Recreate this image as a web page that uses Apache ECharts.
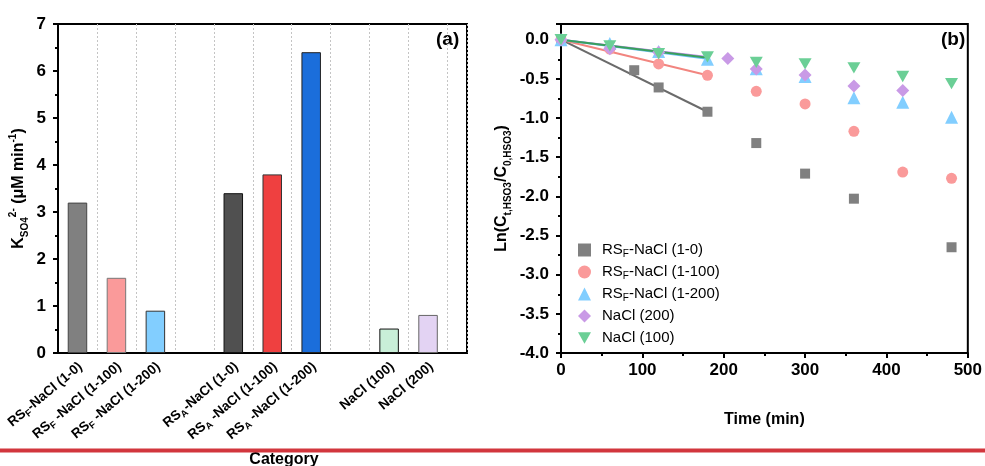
<!DOCTYPE html>
<html>
<head>
<meta charset="utf-8">
<script src="https://cdn.jsdelivr.net/npm/echarts@6/dist/echarts.min.js"></script>
<style>html,body{margin:0;padding:0;background:#fff;}#c{width:985px;height:466px;}</style>
</head>
<body>
<div id="c"></div>
<script>
// ---------- Panel (a) data ----------
const categories = ['RS{s|F}-NaCl (1-0)', 'RS{s|F} -NaCl (1-100)', 'RS{s|F} -NaCl (1-200)', '',
  'RS{s|A}-NaCl (1-0)', 'RS{s|A} -NaCl (1-100)', 'RS{s|A} -NaCl (1-200)', '',
  'NaCl (100)', 'NaCl (200)'];
const kValues = [3.2, 1.6, 0.9, null, 3.4, 3.8, 6.4, null, 0.52, 0.81];
const barColors = ['#808080', '#FA9A9A', '#82CEFF', null, '#505050', '#EF4040', '#1B6EDB', null, '#C9EFD8', '#E3D3F3'];
const barBorders = ['#444', '#777', '#333', null, '#111', '#333', '#222', null, '#111', '#666'];

// ---------- Panel (b) data ----------
const seriesNames = ['RS{s|F}-NaCl (1-0)', 'RS{s|F}-NaCl (1-100)', 'RS{s|F}-NaCl (1-200)', 'NaCl (200)', 'NaCl (100)'];
const timeRSF0 = [0, 90, 120, 180, 240, 300, 360, 480];
const lnRSF0 = [0, -0.39, -0.61, -0.92, -1.32, -1.71, -2.03, -2.65];
const timeRSF100 = [0, 60, 120, 180, 240, 300, 360, 420, 480];
const lnRSF100 = [0, -0.12, -0.31, -0.455, -0.66, -0.82, -1.17, -1.69, -1.77];
const timeRSF200 = [0, 60, 120, 180, 240, 300, 360, 420, 480];
const lnRSF200 = [0, -0.05, -0.15, -0.25, -0.37, -0.47, -0.74, -0.80, -0.99];
const timeNaCl200 = [0, 60, 120, 205, 240, 300, 360, 420];
const lnNaCl200 = [0, -0.115, -0.16, -0.24, -0.375, -0.45, -0.59, -0.65];
const timeNaCl100 = [0, 60, 120, 180, 240, 300, 360, 420, 480];
const lnNaCl100 = [0, -0.08, -0.18, -0.22, -0.29, -0.31, -0.36, -0.47, -0.56];
// linear fits (0–180 min), end values
const fitTime = [0, 180];
const fitStart = [0, 0, 0, 0, 0];
const fitEnd = [-0.92, -0.455, -0.245, -0.22, -0.23];

const FF = '"Liberation Sans", Arial, sans-serif';
const markerColors = ['#808080', '#FA9A9A', '#82CEFF', '#C99AE6', '#6BCF96'];
const lineColors = ['#6B6B6B', '#F2857F', '#6CC0F7', '#B98BE2', '#3A9F5C'];
const symbols = ['rect', 'circle', 'triangle', 'diamond', 'path://M0,0L2,0L1,1.732Z'];
const symbolSizes = [10, 11, 13, 13, [13, 11.3]];

const times = [timeRSF0, timeRSF100, timeRSF200, timeNaCl200, timeNaCl100];
const lns = [lnRSF0, lnRSF100, lnRSF200, lnNaCl200, lnNaCl100];

const chart = echarts.init(document.getElementById('c'), null, {renderer: 'canvas'});

const barData = [];
kValues.forEach((v, i) => {
  if (v === null) return;
  barData.push({value: [i + 1, v], itemStyle: {color: barColors[i], borderColor: barBorders[i], borderWidth: 1}});
});

const series = [{
  type: 'bar', xAxisIndex: 0, yAxisIndex: 0, barWidth: 19.5, data: barData, silent: true
}];
// fit lines (drawn under markers)
const fitOrder = [3, 0, 1, 2, 4];
fitOrder.forEach(k => {
  series.push({
    type: 'line', xAxisIndex: 1, yAxisIndex: 1, showSymbol: false, symbol: 'none', silent: true,
    lineStyle: {color: lineColors[k], width: 2},
    data: [[fitTime[0], fitStart[k]], [fitTime[1], fitEnd[k]]], z: 2
  });
});
seriesNames.forEach((name, k) => {
  series.push({
    name: name, type: 'scatter', xAxisIndex: 1, yAxisIndex: 1,
    symbol: symbols[k], symbolSize: symbolSizes[k],
    itemStyle: {color: markerColors[k], opacity: 1},
    data: times[k].map((t, i) => [t, lns[k][i]]), z: 3
  });
});

const subRich = (fs) => ({
  s: {fontSize: fs, lineHeight: fs, verticalAlign: 'bottom', fontFamily: FF, fontWeight: 'bold'},
  p: {fontSize: fs, lineHeight: fs, verticalAlign: 'top', fontFamily: FF, fontWeight: 'bold'}
});

const option = {
  animation: false,
  backgroundColor: '#fff',
  textStyle: {fontFamily: FF},
  grid: [
    {left: 58, top: 24, width: 409, height: 329, show: true, borderColor: '#000', borderWidth: 2, containLabel: false},
    {left: 561, top: 24, width: 409, height: 329, show: true, borderColor: '#000', borderWidth: 2, containLabel: false},
    {left: 61, top: 24, width: 390, height: 329, show: false, containLabel: false}
  ],
  xAxis: [
    {
      gridIndex: 0, type: 'value', min: 0.5, max: 11, interval: 1,
      axisLine: {show: true, lineStyle: {color: '#000', width: 2}},
      axisTick: {show: false}, axisLabel: {show: false},
      splitLine: {show: true, lineStyle: {color: '#C4C4C4', width: 1, type: [2, 2]}}
    },
    {
      gridIndex: 1, type: 'value', min: 0, max: 500, interval: 100,
      axisLine: {show: true, onZero: false, lineStyle: {color: '#000', width: 2}},
      axisTick: {show: true, length: 5, lineStyle: {color: '#000', width: 2}},
      minorTick: {show: true, splitNumber: 2, length: 3, lineStyle: {color: '#000', width: 2}},
      splitLine: {show: false},
      axisLabel: {color: '#000', fontSize: 17, fontWeight: 'bold', fontFamily: FF, margin: 9},
      name: 'Time (min)', nameLocation: 'middle', nameGap: 59,
      nameTextStyle: {color: '#000', fontSize: 16, fontWeight: 'bold', fontFamily: FF}
    },
    {
      gridIndex: 2, type: 'category', data: categories, boundaryGap: true,
      axisLine: {show: false}, axisTick: {show: false}, splitLine: {show: false},
      axisLabel: {
        interval: 0, rotate: 40, margin: 12, color: '#000', fontSize: 13.5, fontWeight: 'bold', fontFamily: FF,
        lineHeight: 18, rich: subRich(9.5)
      }
    }
  ],
  yAxis: [
    {
      gridIndex: 0, type: 'value', min: 0, max: 7, interval: 1,
      axisLine: {show: true, lineStyle: {color: '#000', width: 2}},
      axisTick: {show: true, length: 5, lineStyle: {color: '#000', width: 2}},
      minorTick: {show: true, splitNumber: 2, length: 3, lineStyle: {color: '#000', width: 2}},
      splitLine: {show: false},
      axisLabel: {color: '#000', fontSize: 17, fontWeight: 'bold', fontFamily: FF, margin: 12},
      name: 'K{s|SO4}{p|2-} (μM min{p|-1})', nameLocation: 'middle', nameRotate: 90, nameGap: 28,
      nameTextStyle: {color: '#000', fontSize: 16, fontWeight: 'bold', fontFamily: FF, lineHeight: 22, rich: subRich(10)}
    },
    {
      gridIndex: 1, type: 'value', min: -4, max: 0.2, interval: 0.5,
      axisLine: {show: true, onZero: false, lineStyle: {color: '#000', width: 2}},
      axisTick: {show: true, length: 5, lineStyle: {color: '#000', width: 2}},
      minorTick: {show: true, splitNumber: 2, length: 3, lineStyle: {color: '#000', width: 2}},
      splitLine: {show: false},
      axisLabel: {color: '#000', fontSize: 17, fontWeight: 'bold', fontFamily: FF, margin: 12,
        showMaxLabel: false, formatter: v => v > 0.1 ? '' : v.toFixed(1)},
      name: 'Ln(C{s|t,HSO3}/C{s|0,HSO3})', nameLocation: 'middle', nameRotate: 90, nameGap: 48,
      nameTextStyle: {color: '#000', fontSize: 16, fontWeight: 'bold', fontFamily: FF, lineHeight: 22, rich: subRich(10)}
    },
    {gridIndex: 2, type: 'value', show: false, min: 0, max: 7}
  ],
  legend: {
    data: seriesNames, orient: 'vertical', left: 573, top: 236,
    itemWidth: 13, itemHeight: 13, itemGap: 4,
    textStyle: {color: '#000', fontSize: 15, fontFamily: FF, lineHeight: 18, padding: [0, 0, 0, 6],
      rich: {s: {fontSize: 10, lineHeight: 10, verticalAlign: 'bottom', fontFamily: FF}}},
    selectedMode: false
  },
  graphic: [
    {type: 'text', x: 436, y: 30, style: {text: '(a)', font: 'bold 19px ' + FF, fill: '#000'}},
    {type: 'text', x: 941, y: 30, style: {text: '(b)', font: 'bold 19px ' + FF, fill: '#000'}},
    {type: 'rect', shape: {x: 0, y: 448.5, width: 985, height: 4}, style: {fill: '#D2363D'}, z: 100},
    {type: 'text', x: 284, y: 452, style: {text: 'Category', font: 'bold 16px ' + FF, fill: '#000', textAlign: 'center', textVerticalAlign: 'top'}}
  ],
  series: series
};
chart.setOption(option);
</script>
</body>
</html>
